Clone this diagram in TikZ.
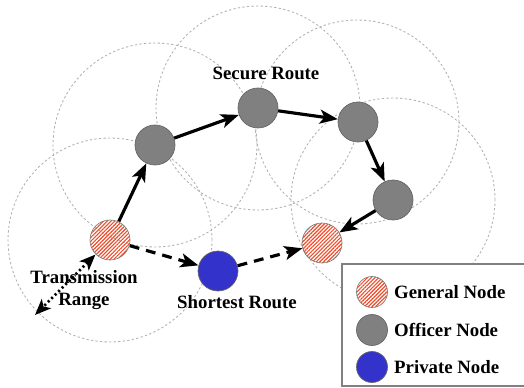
\documentclass[tikz,border=0pt]{standalone}
\usepackage{fontspec}
\setmainfont{Liberation Serif}
\usepackage{tikz}
\usetikzlibrary{arrows.meta, patterns.meta, positioning}

\definecolor{hatchred}{RGB}{240,75,40}
\definecolor{officergray}{RGB}{128,128,128}
\definecolor{privateblue}{RGB}{51,51,204}

\begin{document}
\begin{tikzpicture}[x=0.02cm, y=-0.02cm,
        txt/.style={font=\fontsize{10.7pt}{12.5pt}\selectfont\bfseries, inner sep=0pt, align=center},
        generalnode/.style={circle, draw=gray, thin, minimum size=0.8cm, inner sep=0pt,
            pattern={Lines[angle=45, distance=1.5pt, line width=0.65pt]}, pattern color=hatchred},
        officernode/.style={circle, draw=gray!80!black, thin, fill=officergray, minimum size=0.8cm, inner sep=0pt},
        privatenode/.style={circle, draw=gray!80!black, thin, fill=privateblue, minimum size=0.8cm, inner sep=0pt},
        rangecircle/.style={draw=gray!60, line width=0.5pt, dash pattern=on 1.3pt off 1.3pt},
        securearrow/.style={-{Stealth[length=3.6mm, width=2.8mm, inset=0.9mm]}, line width=1.8pt},
        shortarrow/.style={-{Stealth[length=3.6mm, width=2.8mm, inset=0.9mm]}, line width=1.8pt, dash pattern=on 5.6pt off 4pt},
        reacharrow/.style={{Stealth[length=3.2mm, width=2.6mm, inset=0.8mm]}-{Stealth[length=3.2mm, width=2.6mm, inset=0.8mm]}, line width=1.6pt, dash pattern=on 1.2pt off 1.6pt}]
        \useasboundingbox (0,0) rectangle (524,388);

        % Transmission ranges
        \foreach \cx/\cy in {110/240, 155/145, 258/108, 357/122, 393/200}
            \draw[rangecircle] (\cx,\cy) circle[radius=2.04cm];

        % Nodes
        \node[generalnode] (g1) at (110,240) {};
        \node[officernode] (o1) at (155,145) {};
        \node[officernode] (o2) at (258,108) {};
        \node[officernode] (o3) at (358,122) {};
        \node[officernode] (o4) at (393,200) {};
        \node[generalnode] (g2) at (322,243) {};
        \node[privatenode] (p1) at (218,271) {};
        \coordinate (rangeend) at (35,315);

        % Labels
        \node[txt] (securelbl) at (266,73) {Secure Route};
        \node[txt] (shortlbl) at (237,302) {Shortest Route};
        \node[txt] (rangelbl) at (84,290) {Transmission\\Range};

        % Edges
        \draw[securearrow] (g1) -- (o1);
        \draw[securearrow] (o1) -- (o2);
        \draw[securearrow] (o2) -- (o3);
        \draw[securearrow] (o3) -- (o4);
        \draw[securearrow] (o4) -- (g2);
        \draw[shortarrow] (g1) -- (p1);
        \draw[shortarrow] (p1) -- (g2);
        \draw[reacharrow] (g1) -- (rangeend);

        % Legend
        \draw[gray, line width=0.7pt, fill=white] (342,264) rectangle (530,386);
        \node[generalnode, minimum size=0.62cm] (lg1) at (372,292) {};
        \node[officernode, minimum size=0.62cm] (lg2) at (372,330) {};
        \node[privatenode, minimum size=0.62cm] (lg3) at (372,367) {};
        \node[txt, right=0.12cm of lg1] {General Node};
        \node[txt, right=0.12cm of lg2] {Officer Node};
        \node[txt, right=0.12cm of lg3] {Private Node};
    \end{tikzpicture}
\end{document}
